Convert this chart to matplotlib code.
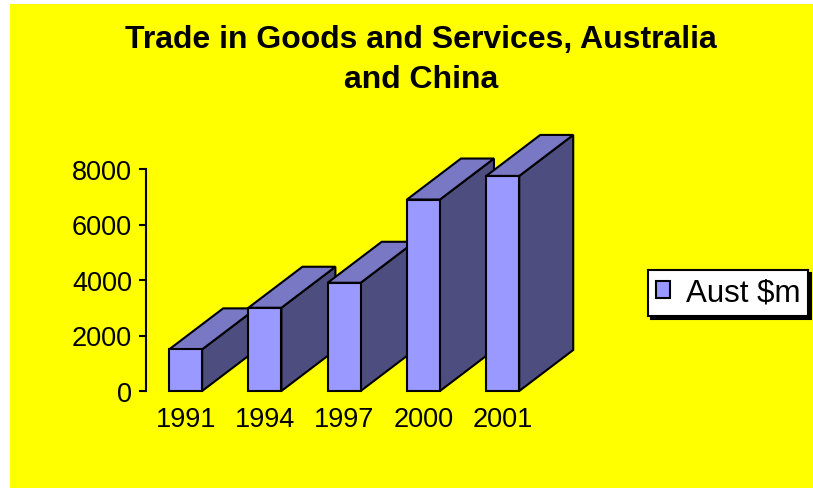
import matplotlib.pyplot as plt
from matplotlib.patches import Polygon, Rectangle, Patch

plt.rcParams['font.family'] = ['Liberation Sans', 'DejaVu Sans']

years = ['1991', '1994', '1997', '2000', '2001']
aust_m = [1500, 3000, 3900, 6900, 7750]
series_name = 'Aust $m'
title = 'Trade in Goods and Services, Australia\nand China'

front_col = '#9999FF'
top_col = '#7878C4'
side_col = '#4D4D80'

W, H = 813, 489
fig = plt.figure(figsize=(W / 100, H / 100), dpi=100, facecolor='white')

# yellow chart area
fig.patches.append(Rectangle((10 / W, 0), 1 - 10 / W, 484 / H,
                             transform=fig.transFigure, facecolor='#FFFF00',
                             edgecolor='none', zorder=-5))

ax = fig.add_axes([146 / W, 97 / H, 436 / W, 222 / H])
ax.set_facecolor('none')
ax.set_xlim(-0.5, 5.0)
ax.set_ylim(0, 8000)

# 3D depth offset in data units (about 54 px right, 41 px up)
bw = 0.416
ddx = 54 / 79.25
ddy = 41 / (222 / 8000)

for i, v in enumerate(aust_m):
    x0, x1 = i - bw / 2, i + bw / 2
    z = 10 + 3 * i
    side = Polygon([(x1, 0), (x1 + ddx, ddy), (x1 + ddx, v + ddy), (x1, v)],
                   closed=True, facecolor=side_col, edgecolor='black',
                   lw=1.5, zorder=z, clip_on=False, joinstyle='miter')
    top = Polygon([(x0, v), (x0 + ddx, v + ddy), (x1 + ddx, v + ddy), (x1, v)],
                  closed=True, facecolor=top_col, edgecolor='black',
                  lw=1.5, zorder=z + 1, clip_on=False, joinstyle='miter')
    ax.add_patch(side)
    ax.add_patch(top)
    ax.bar(i, v, width=bw, color=front_col, edgecolor='black', lw=1.5,
           zorder=z + 2, clip_on=False)

for s in ['top', 'right', 'bottom']:
    ax.spines[s].set_visible(False)
ax.spines['left'].set_linewidth(1.5)
ax.set_yticks([0, 2000, 4000, 6000, 8000])
ax.tick_params(axis='y', direction='out', length=5, width=1.5, pad=5,
               labelsize=19.5)
ax.set_xticks(range(len(years)))
ax.set_xticklabels(years)
ax.tick_params(axis='x', length=0, pad=11, labelsize=19.5)

fig.text(421 / W, 1 - 25 / H, title, ha='center', va='top', fontsize=23,
         fontweight='bold', linespacing=1.45)

leg = fig.legend(handles=[Patch(facecolor=front_col, edgecolor='black', lw=1.5)],
                 labels=[series_name], loc='center left',
                 bbox_to_anchor=(648 / W, 1 - 294 / H), fontsize=22.5,
                 fancybox=False, edgecolor='black', framealpha=1,
                 borderpad=0.25, handlelength=0.45, handleheight=0.45,
                 handletextpad=0.5, borderaxespad=0,
                 shadow={'color': 'black', 'alpha': 1})
leg.get_frame().set_linewidth(1.5)

fig.savefig('out.png', dpi=100, facecolor='white')
